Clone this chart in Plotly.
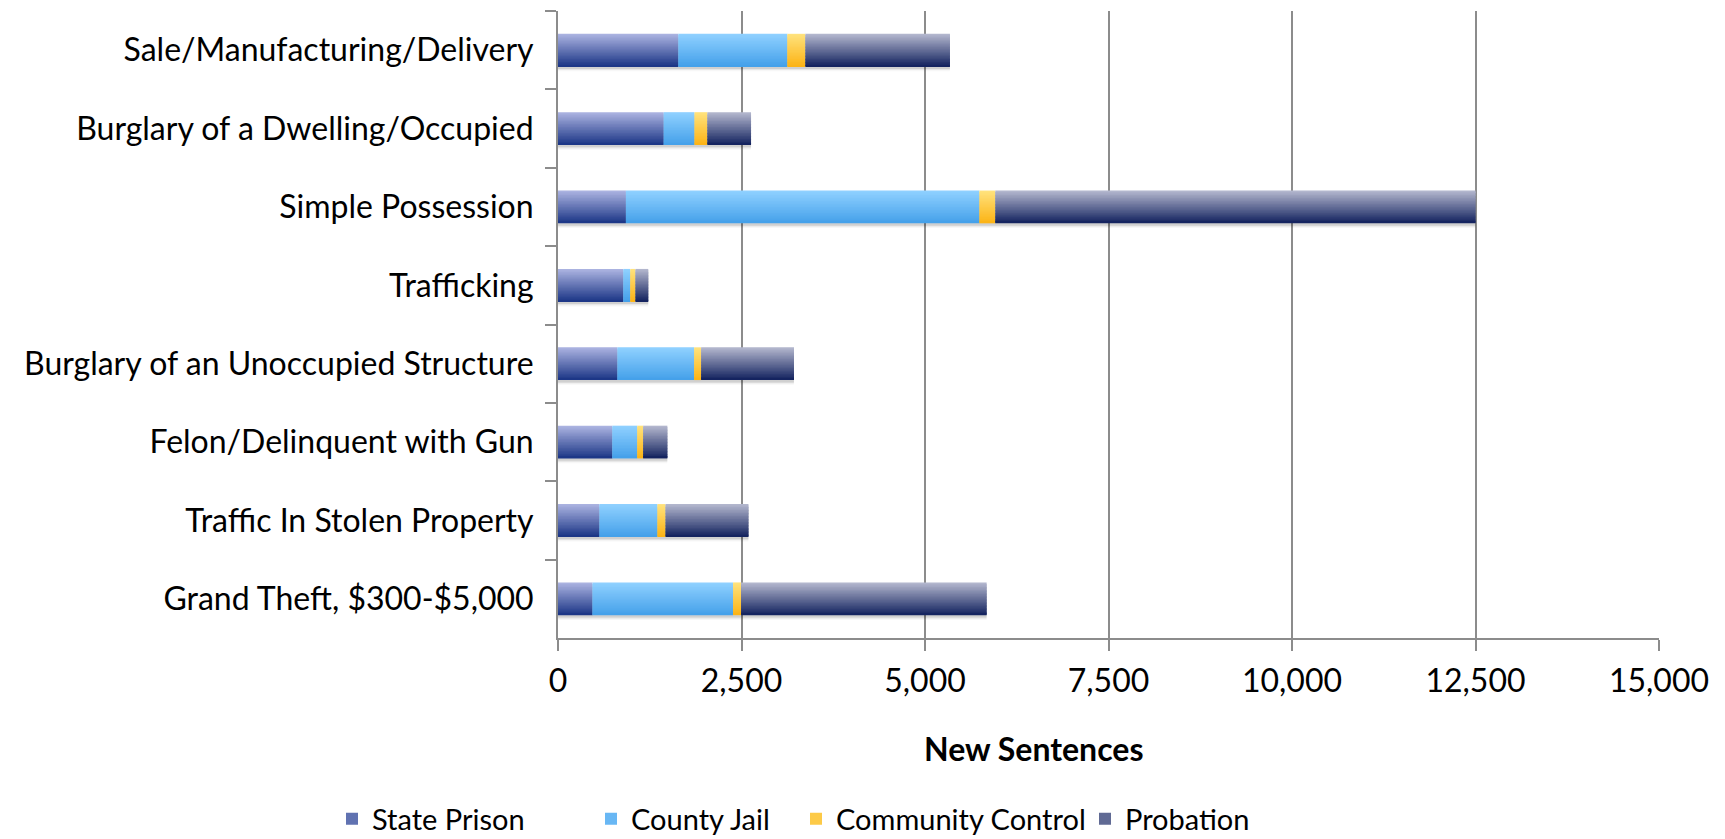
import plotly.graph_objects as go

categories = [
    "Sale/Manufacturing/Delivery",
    "Burglary of a Dwelling/Occupied",
    "Simple Possession",
    "Trafficking",
    "Burglary of an Unoccupied Structure",
    "Felon/Delinquent with Gun",
    "Traffic In Stolen Property",
    "Grand Theft, $300-$5,000",
]
state_prison = [1640, 1440, 925, 890, 810, 740, 565, 470]
county_jail = [1485, 420, 4817, 95, 1045, 340, 790, 1915]
community_control = [245, 175, 216, 70, 95, 80, 110, 110]
probation = [1970, 595, 6542, 175, 1265, 330, 1130, 3345]

series_names = ["State Prison", "County Jail", "Community Control", "Probation"]
series_values = [state_prison, county_jail, community_control, probation]
# gradient (top colour, bottom colour)
series_colors = [
    ("#aab2e0", "#1d3787"),
    ("#8fd0ff", "#45a1ea"),
    ("#ffe27c", "#fcb417"),
    ("#b2b6cd", "#152460"),
]

x_ticks = [0, 2500, 5000, 7500, 10000, 12500, 15000]


def hex_to_rgb(h):
    h = h.lstrip("#")
    return tuple(int(h[i:i + 2], 16) for i in (0, 2, 4))


def mix(c1, c2, t):
    a, b = hex_to_rgb(c1), hex_to_rgb(c2)
    return "rgb(%d,%d,%d)" % tuple(round(a[i] + (b[i] - a[i]) * t) for i in range(3))


fig = go.Figure()

bar_w = 0.418
n_strips = 22
strip_w = bar_w / n_strips

# drop shadow
totals = [sum(v) for v in zip(*series_values)]
for k, a in enumerate([0.10, 0.06, 0.03]):
    fig.add_trace(go.Bar(
        y=categories, x=totals, base=[0] * len(totals), orientation="h",
        width=bar_w, offset=-bar_w / 2 + 0.03 + 0.015 * k,
        marker=dict(color="rgba(0,0,0,%s)" % a, line=dict(width=0)),
        showlegend=False, hoverinfo="skip",
    ))

legend_ids = ["legend", "legend2", "legend3", "legend4"]
cum = [0] * len(categories)
for name, vals, (ctop, cbot), lid in zip(series_names, series_values, series_colors, legend_ids):
    for i in range(n_strips):
        t = i / (n_strips - 1)
        fig.add_trace(go.Bar(
            y=categories, x=vals, base=cum[:], orientation="h",
            width=strip_w * (1.6 if i < n_strips - 1 else 1.0), offset=-bar_w / 2 + i * strip_w,
            marker=dict(color=mix(ctop, cbot, t), line=dict(width=0)),
            name=name, showlegend=(i == n_strips // 2), legend=lid,
            hovertemplate="%{y}<br>" + name + ": %{x:,}<extra></extra>",
        ))
    cum = [c + v for c, v in zip(cum, vals)]

FONT = "Lato"
FS = 32
W, H = 1725, 839
PLOT_LEFT, PLOT_W = 558, 1101  # page pixels of the plot area
legend_left_page = [332, 591, 796, 1085]
legend_common = dict(
    xref="paper", yref="paper", xanchor="left", yanchor="middle",
    y=-0.2885, font=dict(size=29), bgcolor="rgba(0,0,0,0)",
)
layout_legends = {}
for lid, px in zip(legend_ids, legend_left_page):
    layout_legends[lid] = dict(legend_common, x=(px - PLOT_LEFT) / PLOT_W)

fig.update_layout(
    width=W, height=H,
    barmode="overlay",
    plot_bgcolor="white", paper_bgcolor="white",
    margin=dict(l=550, r=74, t=3, b=205),
    font=dict(family=FONT, color="black", size=FS),
    xaxis=dict(
        range=[0, 15000], tickvals=x_ticks, tickformat=",",
        showgrid=True, gridcolor="#8c8c8c", gridwidth=2,
        showline=True, linecolor="#8c8c8c", linewidth=2,
        ticks="outside", ticklen=11, tickcolor="#8c8c8c", tickwidth=2,
        ticklabelstandoff=3, zeroline=False,
        tickfont=dict(size=FS),
    ),
    yaxis=dict(
        categoryorder="array", categoryarray=categories, autorange="reversed",
        tickson="boundaries", ticks="outside", ticklen=11, tickcolor="#8c8c8c", tickwidth=2,
        showline=True, linecolor="#8c8c8c", linewidth=2, showgrid=False,
        ticklabelstandoff=16, tickfont=dict(size=FS),
    ),
    annotations=[dict(
        text="<b>New Sentences</b>", xref="paper", yref="paper",
        x=0.432, y=-0.1767, xanchor="center", yanchor="middle",
        showarrow=False, font=dict(size=FS),
    )],
    **layout_legends,
)

fig.write_html("out.html")
